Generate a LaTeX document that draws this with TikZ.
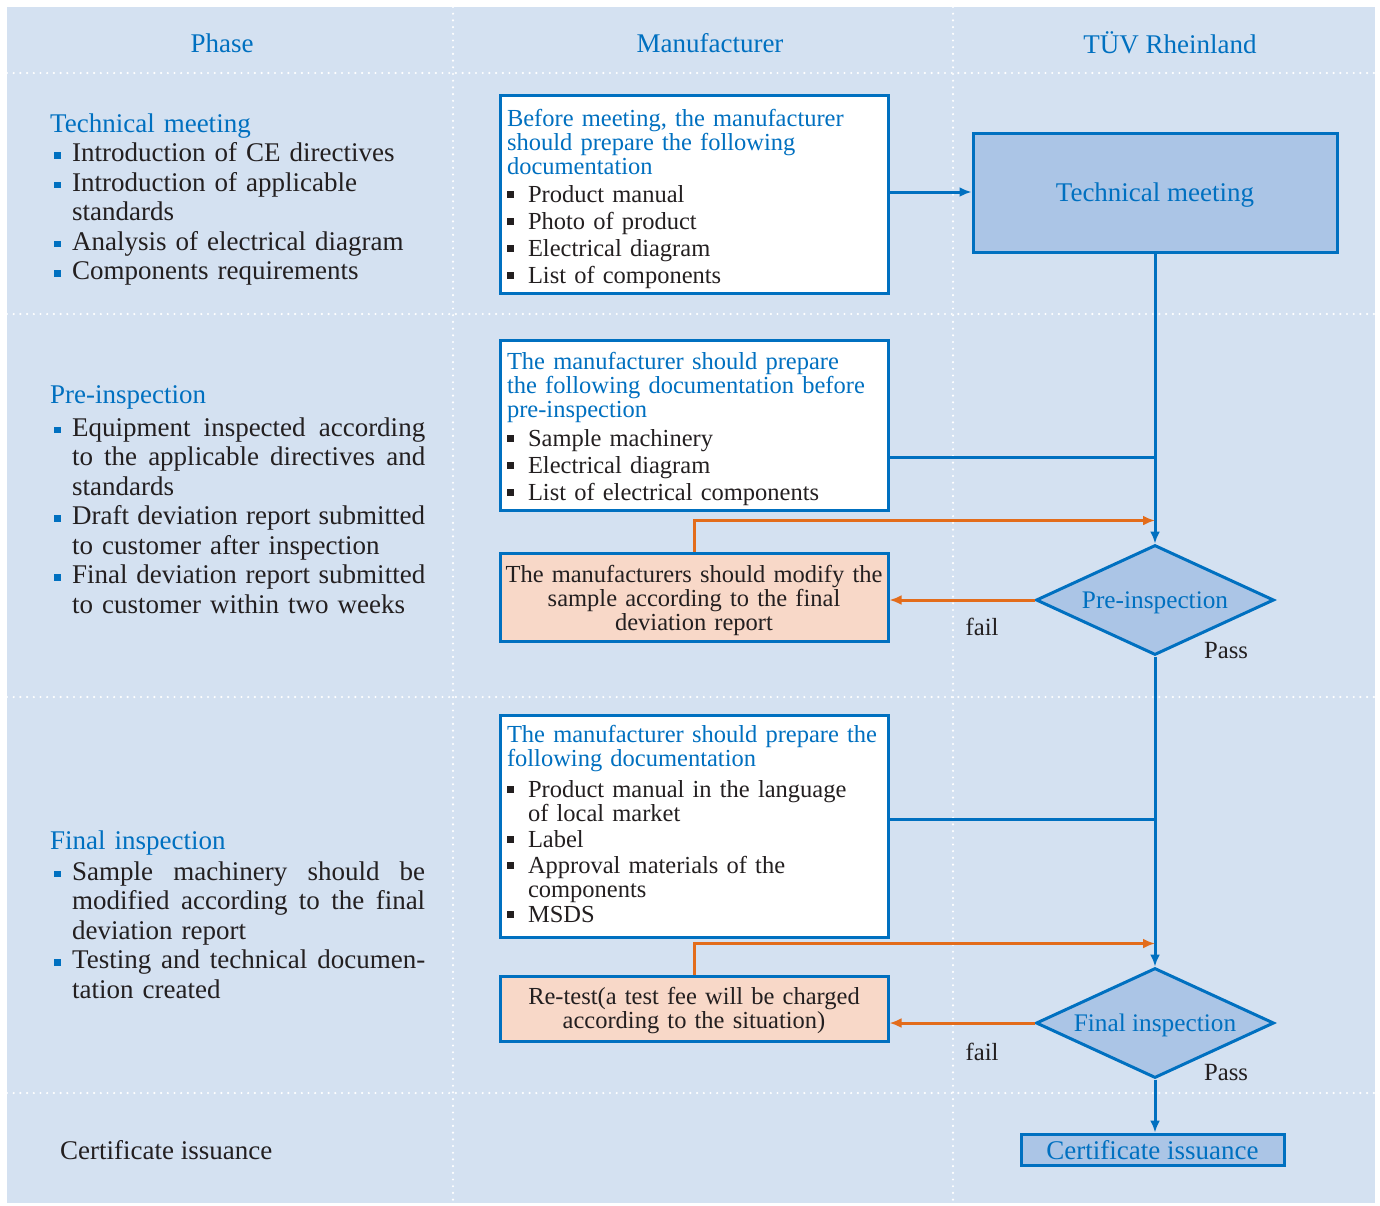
\documentclass[tikz,border=0pt]{standalone}
\usepackage{fontspec}
\setmainfont{Liberation Serif}
\usetikzlibrary{shapes.geometric,arrows.meta,calc}
\definecolor{bgblue}{RGB}{212,225,241}
\definecolor{tblue}{RGB}{0,112,192}
\definecolor{fillblue}{RGB}{171,197,230}
\definecolor{ofill}{RGB}{248,216,200}
\definecolor{oline}{RGB}{227,108,27}
\definecolor{tblack}{RGB}{35,31,32}
\newcommand\lbul{\makebox[22pt][l]{\hspace{4pt}\textcolor{tblue}{\rule[3pt]{6.5pt}{6.5pt}}}}
\newcommand\lind{\hspace*{22pt}}
\newcommand\jl[1]{\makebox[353pt][s]{\spaceskip=.3333em plus 10em minus .05em\relax #1}}
\newcommand\bl[1]{\makebox[21pt][l]{\textcolor{tblack}{\rule[4.5pt]{7pt}{7pt}}}\textcolor{tblack}{#1}}
\newcommand\bc[1]{\hspace*{21pt}\textcolor{tblack}{#1}}
\newcommand\ts[1]{\rule{0pt}{#1pt}}
\newcommand\bigf{\fontsize{27}{29.5}\selectfont}
\newcommand\boxf{\fontsize{24.5}{24}\selectfont}
\begin{document}
\begin{tikzpicture}[x=1pt,y=-1pt,
  divider/.style={white,line width=2.4pt,line cap=round,dash pattern=on 0pt off 6.7pt},
  lefttext/.style={anchor=north west,inner sep=0pt,text width=375pt,align=left,font=\bigf,text=tblack},
  head/.style={font=\bigf,text=tblue,inner sep=0pt},
  wbox/.style={draw=tblue,line width=3pt,fill=white,text width=374pt,inner xsep=7pt,inner ysep=0pt,minimum height=#1,align=left,font=\boxf,text=tblue},
  obox/.style={draw=tblue,line width=3pt,fill=ofill,text width=380pt,inner xsep=4pt,inner ysep=0pt,minimum height=#1,align=center,font=\boxf,text=tblack},
  decision/.style={diamond,aspect=2.16,draw=tblue,line width=3pt,fill=fillblue,inner sep=0pt,minimum width=238pt,minimum height=110pt,text=tblue,text depth=0pt,font=\fontsize{25.3}{28}\selectfont},
  pbox/.style={draw=tblue,line width=3pt,fill=fillblue,inner sep=0pt,text=tblue,text depth=0pt,font=\bigf},
  bflow/.style={draw=tblue,line width=3pt},
  barrow/.style={bflow,-{Latex[length=12pt,width=10pt]}},
  oarrow/.style={draw=oline,line width=3pt,-{Latex[length=12pt,width=10pt]}},
  lbl/.style={font=\fontsize{24.7}{28}\selectfont,text=tblack,inner sep=0pt}
]
\useasboundingbox (0,0) rectangle (1380,1205);
\fill[bgblue] (7,7) rectangle (1375,1203);
% dividers
\foreach \yy in {73,314,697,1093} \draw[divider] (7,\yy) -- (1375,\yy);
\foreach \xx in {453,953} \draw[divider] (\xx,7) -- (\xx,1203);
% headers
\node[head] (hphase) at (222,43) {Phase};
\node[head] (hman) at (710,43) {Manufacturer};
\node[head] (htuv) at (1170,43) {TÜV Rheinland};
% left column
\node[lefttext] (ltm) at (50,113.5) {\textcolor{tblue}{Technical meeting}\\
\lbul Introduction of CE directives\\
\lbul Introduction of applicable\\
\lind standards\\
\lbul Analysis of electrical diagram\\
\lbul Components requirements};
\node[lefttext] (lpre) at (50,385.5) {\textcolor{tblue}{Pre-inspection}\\[3pt]
\lbul\jl{Equipment inspected according}\\
\lind\jl{to the applicable directives and}\\
\lind standards\\
\lbul\jl{Draft deviation report submitted}\\
\lind to customer after inspection\\
\lbul\jl{Final deviation report submitted}\\
\lind to customer within two weeks};
\node[lefttext] (lfin) at (50,830.5) {\textcolor{tblue}{Final inspection}\\[1.5pt]
\lbul\jl{Sample machinery should be}\\
\lind\jl{modified according to the final}\\
\lind deviation report\\
\lbul\jl{Testing and technical documen-}\\
\lind tation created};
\node[font=\bigf,text=tblack,inner sep=0pt,anchor=west] (lcert) at (60,1150) {Certificate issuance};
% manufacturer column
\node[wbox=198pt] (box1) at (694,194) {\ts{26.7}Before meeting, the manufacturer\\
should prepare the following\\
documentation\\[4pt]
\bl{Product manual}\\[3pt]
\bl{Photo of product}\\[3pt]
\bl{Electrical diagram}\\[3pt]
\bl{List of components}};
\node[wbox=170pt] (box2) at (694,425) {\ts{24.7}The manufacturer should prepare\\
the following documentation before\\
pre-inspection\\[5pt]
\bl{Sample machinery}\\[3pt]
\bl{Electrical diagram}\\[3pt]
\bl{List of electrical components}};
\node[obox=88pt] (o1) at (694,597) {\ts{24.7}The manufacturers should modify the\\
sample according to the final\\
deviation report};
\node[wbox=222pt] (box3) at (694,826) {The manufacturer should prepare the\\
following documentation\\[7pt]
\bl{Product manual in the language}\\
\bc{of local market}\\[2pt]
\bl{Label}\\[2pt]
\bl{Approval materials of the}\\
\bc{components}\\[1pt]
\bl{MSDS\rule[-4pt]{0pt}{4pt}}};
\node[obox=65pt] (o2) at (694,1008.5) {\ts{20.7}Re-test(a test fee will be charged\\
according to the situation)};
% TUV column
\node[pbox,minimum width=364pt,minimum height=119pt] (tm) at (1155,192.5) {Technical meeting};
\node[decision] (d1) at (1155,600) {Pre-inspection};
\node[decision] (d2) at (1155,1023) {Final inspection};
\node[pbox,minimum width=263pt,minimum height=31pt] (cert) at (1152.5,1149.5) {Certificate issuance};
% connectors
\draw[barrow] ([yshift=2pt]box1.east) -- ([yshift=2pt]box1.east -| tm.west);
\draw[barrow] (tm.south) -- (d1.north);
\draw[bflow] ([yshift=-32pt]box2.east) -- ([yshift=-32pt]box2.east -| tm.south);
\draw[oarrow] (o1.north) |- ([yshift=23pt]d1.north);
\draw[oarrow] (d1.west) -- (d1.west -| o1.east);
\draw[barrow] (d1.south) -- (d2.north);
\draw[bflow] ([yshift=7pt]box3.east) -- ([yshift=7pt]box3.east -| d2.north);
\draw[oarrow] (o2.north) |- ([yshift=23pt]d2.north);
\draw[oarrow] (d2.west) -- (d2.west -| o2.east);
\draw[barrow] (d2.south) -- (d2.south |- cert.north);
% labels
\node[lbl] (fail1) at (982,627) {fail};
\node[lbl] (pass1) at (1226,651) {Pass};
\node[lbl] (fail2) at (982,1052) {fail};
\node[lbl] (pass2) at (1226,1073) {Pass};
\end{tikzpicture}
\end{document}
